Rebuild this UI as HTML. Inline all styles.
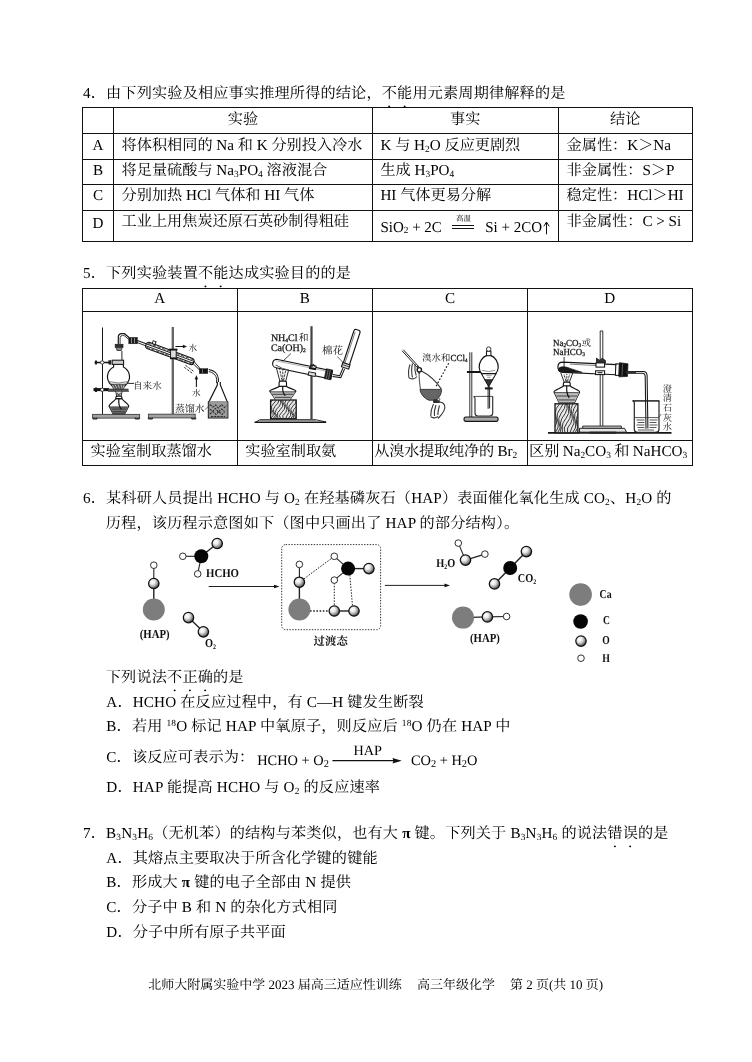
<!DOCTYPE html>
<html lang="zh-CN">
<head>
<meta charset="utf-8">
<title>高三年级化学 第2页</title>
<style>
html,body{margin:0;padding:0;background:#fff}
body{width:752px;height:1062px;overflow:hidden}
#page{width:752px;height:1062px;position:relative;overflow:hidden;background:#fff;will-change:transform;text-rendering:geometricPrecision;font-family:"Liberation Serif","Noto Serif CJK SC",serif;font-size:15.17px;color:#000}
.l{position:absolute;white-space:nowrap;line-height:20px;height:20px}
.w{letter-spacing:.0105em}
.em{-webkit-text-emphasis:dot;text-emphasis:dot;-webkit-text-emphasis-position:under;text-emphasis-position:under right}
sub,sup{font-size:.62em;line-height:0}
sub{vertical-align:-.16em}
sup{vertical-align:.52em}
.r{position:absolute;display:block}
.c{text-align:center}
.fig{position:absolute;left:0;top:0}
.eq sub{font-size:.72em;vertical-align:-.22em}
</style>
</head>
<body>
<div id="page">
<div class="l w" style="left:83.00px;top:83.68px;">4．由下列实验及相应事实推理所得的结论，<span class="em">不能</span>用元素周期律解释的是</div>
<i class="r" style="left:82.00px;top:107.40px;width:610.70px;height:1.00px;background:#111"></i>
<i class="r" style="left:82.00px;top:133.00px;width:610.70px;height:1.00px;background:#111"></i>
<i class="r" style="left:82.00px;top:158.50px;width:610.70px;height:1.00px;background:#111"></i>
<i class="r" style="left:82.00px;top:184.00px;width:610.70px;height:1.00px;background:#111"></i>
<i class="r" style="left:82.00px;top:209.80px;width:610.70px;height:1.00px;background:#111"></i>
<i class="r" style="left:82.00px;top:240.50px;width:610.70px;height:1.00px;background:#111"></i>
<i class="r" style="left:82.00px;top:107.90px;width:1.00px;height:133.10px;background:#111"></i>
<i class="r" style="left:113.00px;top:107.90px;width:1.00px;height:133.10px;background:#111"></i>
<i class="r" style="left:371.80px;top:107.90px;width:1.00px;height:133.10px;background:#111"></i>
<i class="r" style="left:557.60px;top:107.90px;width:1.00px;height:133.10px;background:#111"></i>
<i class="r" style="left:691.70px;top:107.90px;width:1.00px;height:133.10px;background:#111"></i>
<div class="l c" style="left:113.50px;top:109.68px;width:258.80px;">实验</div>
<div class="l c" style="left:372.30px;top:109.68px;width:185.80px;">事实</div>
<div class="l c" style="left:558.10px;top:109.68px;width:134.10px;">结论</div>
<div class="l c" style="left:82.50px;top:135.68px;width:31.00px;">A</div>
<div class="l c" style="left:82.50px;top:160.98px;width:31.00px;">B</div>
<div class="l c" style="left:82.50px;top:186.48px;width:31.00px;">C</div>
<div class="l c" style="left:82.50px;top:214.08px;width:31.00px;">D</div>
<div class="l" style="left:121.60px;top:135.68px;">将体积相同的 Na 和 K 分别投入冷水</div>
<div class="l" style="left:380.40px;top:135.68px;">K 与 H<sub>2</sub>O 反应更剧烈</div>
<div class="l" style="left:566.60px;top:135.68px;">金属性：K＞Na</div>
<div class="l" style="left:121.60px;top:160.98px;">将足量硫酸与 Na<sub>3</sub>PO<sub>4</sub> 溶液混合</div>
<div class="l" style="left:380.40px;top:160.98px;">生成 H<sub>3</sub>PO<sub>4</sub></div>
<div class="l" style="left:566.60px;top:160.98px;">非金属性：S＞P</div>
<div class="l" style="left:121.60px;top:186.48px;">分别加热 HCl 气体和 HI 气体</div>
<div class="l" style="left:380.40px;top:186.48px;">HI 气体更易分解</div>
<div class="l" style="left:566.60px;top:186.48px;">稳定性：HCl＞HI</div>
<div class="l" style="left:121.60px;top:211.68px;">工业上用焦炭还原石英砂制得粗硅</div>
<div class="l" style="left:566.60px;top:211.68px;">非金属性：C &gt; Si</div>
<div class="l" style="left:380.40px;top:217.54px;font-size:15.00px;">SiO<sub>2</sub> + 2C</div>
<div class="l" style="left:485.20px;top:217.54px;font-size:15.00px;">Si + 2CO</div>
<i class="r" style="left:452.40px;top:225.45px;width:22.00px;height:0.90px;background:#111"></i>
<i class="r" style="left:452.40px;top:228.05px;width:22.00px;height:0.90px;background:#111"></i>
<div class="l" style="left:456.00px;top:209.24px;font-size:7.60px;">高温</div>
<div class="l w" style="left:83.00px;top:263.98px;">5．下列实验装置<span class="em">不能</span>达成实验目的的是</div>
<i class="r" style="left:82.00px;top:287.90px;width:610.80px;height:1.00px;background:#111"></i>
<i class="r" style="left:82.00px;top:311.00px;width:610.80px;height:1.00px;background:#111"></i>
<i class="r" style="left:82.00px;top:439.80px;width:610.80px;height:1.00px;background:#111"></i>
<i class="r" style="left:82.00px;top:464.80px;width:610.80px;height:1.00px;background:#111"></i>
<i class="r" style="left:82.00px;top:288.40px;width:1.00px;height:176.90px;background:#111"></i>
<i class="r" style="left:236.70px;top:288.40px;width:1.00px;height:176.90px;background:#111"></i>
<i class="r" style="left:372.00px;top:288.40px;width:1.00px;height:176.90px;background:#111"></i>
<i class="r" style="left:526.90px;top:288.40px;width:1.00px;height:176.90px;background:#111"></i>
<i class="r" style="left:691.80px;top:288.40px;width:1.00px;height:176.90px;background:#111"></i>
<div class="l c" style="left:82.50px;top:288.68px;width:154.70px;">A</div>
<div class="l c" style="left:237.20px;top:288.68px;width:135.30px;">B</div>
<div class="l c" style="left:372.50px;top:288.68px;width:154.90px;">C</div>
<div class="l c" style="left:527.40px;top:288.68px;width:164.90px;">D</div>
<div class="l" style="left:90.60px;top:441.88px;">实验室制取蒸馏水</div>
<div class="l" style="left:245.30px;top:441.88px;">实验室制取氨</div>
<div class="l" style="left:374.20px;top:441.88px;letter-spacing:-.012em;">从溴水提取纯净的 Br<sub>2</sub></div>
<div class="l" style="left:529.00px;top:441.88px;word-spacing:-.4px;">区别 Na<sub>2</sub>CO<sub>3</sub> 和 NaHCO<sub>3</sub></div>
<div class="l w" style="left:83.00px;top:489.18px;">6．某科研人员提出 HCHO 与 O<sub>2</sub> 在羟基磷灰石（HAP）表面催化氧化生成 CO<sub>2</sub>、H<sub>2</sub>O 的</div>
<div class="l w" style="left:105.80px;top:513.88px;">历程，该历程示意图如下（图中只画出了 HAP 的部分结构）。</div>
<div class="l w" style="left:105.80px;top:668.28px;">下列说法<span class="em">不正确</span>的是</div>
<div class="l w" style="left:106.30px;top:692.58px;">A．HCHO 在反应过程中，有 C—H 键发生断裂</div>
<div class="l w" style="left:106.30px;top:717.28px;">B．若用 <sup>18</sup>O 标记 HAP 中氧原子，则反应后 <sup>18</sup>O 仍在 HAP 中</div>
<div class="l w" style="left:106.30px;top:747.68px;">C．该反应可表示为：</div>
<div class="l w" style="left:106.30px;top:777.68px;">D．HAP 能提高 HCHO 与 O<sub>2</sub> 的反应速率</div>
<div class="l eq" style="left:257.20px;top:751.14px;font-size:14.40px;">HCHO + O<sub>2</sub></div>
<div class="l eq" style="left:410.90px;top:751.14px;font-size:14.40px;">CO<sub>2</sub> + H<sub>2</sub>O</div>
<div class="l" style="left:353.40px;top:741.31px;font-size:14.20px;">HAP</div>
<div class="l w" style="left:83.00px;top:823.98px;">7．B<sub>3</sub>N<sub>3</sub>H<sub>6</sub>（无机苯）的结构与苯类似，也有大 <b>π</b> 键。下列关于 B<sub>3</sub>N<sub>3</sub>H<sub>6</sub> 的说法<span class="em">错误</span>的是</div>
<div class="l w" style="left:106.30px;top:848.78px;">A．其熔点主要取决于所含化学键的键能</div>
<div class="l w" style="left:106.30px;top:873.48px;">B．形成大 <b>π</b> 键的电子全部由 N 提供</div>
<div class="l w" style="left:106.30px;top:898.28px;">C．分子中 B 和 N 的杂化方式相同</div>
<div class="l w" style="left:106.30px;top:922.98px;">D．分子中所有原子共平面</div>
<div class="l" style="left:148.20px;top:975.21px;font-size:13.00px;">北师大附属实验中学 2023 届高三适应性训练</div>
<div class="l" style="left:416.90px;top:975.21px;font-size:13.00px;">高三年级化学</div>
<div class="l" style="left:510.00px;top:975.21px;font-size:13.00px;">第 2 页(共 10 页)</div>
<svg class="fig" width="752" height="1062" viewBox="0 0 752 1062" font-family="'Liberation Serif', 'Noto Serif CJK SC', serif"><g id="q6"><defs><radialGradient id="sph" cx="0.36" cy="0.34" r="0.7"><stop offset="0" stop-color="#fff"/><stop offset="0.34" stop-color="#ececec"/><stop offset="0.7" stop-color="#9a9a9a"/><stop offset="1" stop-color="#2e2e2e"/></radialGradient></defs><line x1="153.8" y1="609.5" x2="153.8" y2="583.5" stroke="#222" stroke-width="1.4"/><line x1="153.8" y1="583.5" x2="153.8" y2="565.2" stroke="#222" stroke-width="1.1"/><circle cx="153.8" cy="609.5" r="11" fill="#7d7d7d"/><circle cx="153.8" cy="583.5" r="5.2" fill="url(#sph)" stroke="#111" stroke-width="1.25"/><circle cx="153.8" cy="565.2" r="3.3" fill="#fff" stroke="#1a1a1a" stroke-width="0.9"/><text x="0" y="0" transform="translate(139.80 637.80) scale(0.880 1)" font-size="12.20" font-weight="bold" fill="#111" text-anchor="start">(HAP)</text><line x1="201.3" y1="556.3" x2="217.2" y2="543.5" stroke="#222" stroke-width="1.4"/><line x1="201.3" y1="556.3" x2="182.8" y2="556.3" stroke="#222" stroke-width="1.1"/><line x1="201.3" y1="556.3" x2="197.7" y2="573.9" stroke="#222" stroke-width="1.1"/><circle cx="201.3" cy="556.3" r="7" fill="#050505"/><circle cx="217.2" cy="543.5" r="5.2" fill="url(#sph)" stroke="#111" stroke-width="1.25"/><circle cx="182.8" cy="556.3" r="3.3" fill="#fff" stroke="#1a1a1a" stroke-width="0.9"/><circle cx="197.7" cy="573.9" r="3.3" fill="#fff" stroke="#1a1a1a" stroke-width="0.9"/><text x="0" y="0" transform="translate(206.00 577.30) scale(0.900 1)" font-size="12.00" font-weight="bold" fill="#111" text-anchor="start">HCHO</text><line x1="208.7" y1="586.5" x2="276.5" y2="586.5" stroke="#222" stroke-width="1"/><path d="M279.5 586.5 l-5.5 -1.8 v3.6z" fill="#111"/><line x1="188.5" y1="617.6" x2="203.4" y2="631.8" stroke="#222" stroke-width="1.4"/><circle cx="188.5" cy="617.6" r="5.2" fill="url(#sph)" stroke="#111" stroke-width="1.25"/><circle cx="203.4" cy="631.8" r="5.2" fill="url(#sph)" stroke="#111" stroke-width="1.25"/><text x="0" y="0" transform="translate(204.90 647.30) scale(0.860 1)" font-size="12.00" font-weight="bold" fill="#111" text-anchor="start">O<tspan font-size="7" dy="2">2</tspan></text><rect x="281.7" y="544.6" width="98.9" height="85.1" rx="4" fill="none" stroke="#333" stroke-width="1" stroke-dasharray="1.4 1.4"/><line x1="299.4" y1="609.5" x2="299.4" y2="582.2" stroke="#222" stroke-width="1.4"/><line x1="299.4" y1="582.2" x2="299.4" y2="564.4" stroke="#222" stroke-width="1.1"/><line x1="334.3" y1="556.3" x2="348.1" y2="568.6" stroke="#222" stroke-width="1.1"/><line x1="348.1" y1="568.6" x2="368.9" y2="568.6" stroke="#222" stroke-width="1.4"/><line x1="348.1" y1="568.6" x2="334.3" y2="580.1" stroke="#222" stroke-width="1.1"/><line x1="334.3" y1="611.0" x2="354.0" y2="611.0" stroke="#222" stroke-width="1.4"/><line x1="299.4" y1="582.2" x2="334.3" y2="556.3" stroke="#222" stroke-width="1.0" stroke-dasharray="1.5 1.4"/><line x1="334.3" y1="580.1" x2="334.3" y2="611.0" stroke="#222" stroke-width="1.0" stroke-dasharray="1.5 1.4"/><line x1="349.8" y1="575.0" x2="352.5" y2="606.0" stroke="#222" stroke-width="1.0" stroke-dasharray="1.5 1.4"/><line x1="310.0" y1="611.0" x2="329.0" y2="611.0" stroke="#222" stroke-width="1.6" stroke-dasharray="1.6 1.6"/><circle cx="299.4" cy="609.5" r="11" fill="#7d7d7d"/><circle cx="299.4" cy="582.2" r="5.2" fill="url(#sph)" stroke="#111" stroke-width="1.25"/><circle cx="299.4" cy="564.4" r="3.3" fill="#fff" stroke="#1a1a1a" stroke-width="0.9"/><circle cx="334.3" cy="556.3" r="3.3" fill="#fff" stroke="#1a1a1a" stroke-width="0.9"/><circle cx="348.1" cy="568.6" r="7" fill="#050505"/><circle cx="368.9" cy="568.6" r="5.2" fill="url(#sph)" stroke="#111" stroke-width="1.25"/><circle cx="334.3" cy="580.1" r="3.3" fill="#fff" stroke="#1a1a1a" stroke-width="0.9"/><circle cx="334.3" cy="611.0" r="5.2" fill="url(#sph)" stroke="#111" stroke-width="1.25"/><circle cx="354.0" cy="611.0" r="5.2" fill="url(#sph)" stroke="#111" stroke-width="1.25"/><text x="313.6" y="645.2" font-size="11.4" font-weight="bold" fill="#111">过渡态</text><line x1="384.9" y1="585.4" x2="447.0" y2="585.4" stroke="#222" stroke-width="1"/><path d="M450.0 585.4 l-5.5 -1.8 v3.6z" fill="#111"/><line x1="465.5" y1="560.1" x2="458.3" y2="543.1" stroke="#222" stroke-width="1.1"/><line x1="465.5" y1="560.1" x2="484.9" y2="554.1" stroke="#222" stroke-width="1.1"/><circle cx="465.5" cy="560.1" r="5.2" fill="url(#sph)" stroke="#111" stroke-width="1.25"/><circle cx="458.3" cy="543.1" r="3.3" fill="#fff" stroke="#1a1a1a" stroke-width="0.9"/><circle cx="484.9" cy="554.1" r="3.3" fill="#fff" stroke="#1a1a1a" stroke-width="0.9"/><text x="0" y="0" transform="translate(436.20 566.90) scale(0.860 1)" font-size="12.00" font-weight="bold" fill="#111" text-anchor="start">H<tspan font-size="7" dy="2">2</tspan><tspan dy="-2">O</tspan></text><line x1="510.2" y1="568.0" x2="526.4" y2="551.6" stroke="#222" stroke-width="1.4"/><line x1="510.2" y1="568.0" x2="494.5" y2="583.9" stroke="#222" stroke-width="1.4"/><circle cx="510.2" cy="568.0" r="7" fill="#050505"/><circle cx="526.4" cy="551.6" r="5.2" fill="url(#sph)" stroke="#111" stroke-width="1.25"/><circle cx="494.5" cy="583.9" r="5.2" fill="url(#sph)" stroke="#111" stroke-width="1.25"/><text x="0" y="0" transform="translate(517.70 582.20) scale(0.860 1)" font-size="12.00" font-weight="bold" fill="#111" text-anchor="start">CO<tspan font-size="7" dy="2">2</tspan></text><line x1="463.0" y1="617.6" x2="487.4" y2="616.9" stroke="#222" stroke-width="1.4"/><line x1="487.4" y1="616.9" x2="506.6" y2="616.5" stroke="#222" stroke-width="1.1"/><circle cx="463.0" cy="617.6" r="11" fill="#7d7d7d"/><circle cx="487.4" cy="616.9" r="5.2" fill="url(#sph)" stroke="#111" stroke-width="1.25"/><circle cx="506.6" cy="616.5" r="3.3" fill="#fff" stroke="#1a1a1a" stroke-width="0.9"/><text x="0" y="0" transform="translate(470.00 642.20) scale(0.880 1)" font-size="12.20" font-weight="bold" fill="#111" text-anchor="start">(HAP)</text><circle cx="580.6" cy="594.6" r="11.3" fill="#7d7d7d"/><circle cx="580.6" cy="621.5" r="7.3" fill="#050505"/><circle cx="581.0" cy="641.1" r="5.2" fill="url(#sph)" stroke="#111" stroke-width="1.25"/><circle cx="581.0" cy="658.2" r="3.3" fill="#fff" stroke="#1a1a1a" stroke-width="0.9"/><text x="0" y="0" transform="translate(599.60 598.40) scale(0.820 1)" font-size="12.00" font-weight="bold" fill="#111" text-anchor="start">Ca</text><text x="0" y="0" transform="translate(603.00 624.30) scale(0.800 1)" font-size="12.00" font-weight="bold" fill="#111" text-anchor="start">C</text><text x="0" y="0" transform="translate(602.30 644.30) scale(0.800 1)" font-size="12.00" font-weight="bold" fill="#111" text-anchor="start">O</text><text x="0" y="0" transform="translate(602.30 661.60) scale(0.820 1)" font-size="12.00" font-weight="bold" fill="#111" text-anchor="start">H</text></g>
<path d="M546.500 234.300V222.400M543.800 226.300l2.700-4.300l2.700 4.300" fill="none" stroke="#111" stroke-width="1"/>
<path d="M332.400 760.700H396" fill="none" stroke="#111" stroke-width="1.2"/><path d="M401.800 760.700l-9.300-2.700q1.600 2.700 0 5.400z" fill="#111"/>
<g id="q5figs"><rect x="102" y="327.500" width="1" height="87" fill="#1a1a1a"/><rect x="92.6" y="414.4" width="47.0" height="3.7" fill="#a2a2a2" stroke="#444" stroke-width="0.94" /><path d="M93 417.7v1.300h4v-1.300M135.300 417.700v1.300h4v-1.300" fill="#555" stroke="#151515" stroke-width="0.94" /><line x1="172.8" y1="327.0" x2="172.8" y2="414.0" stroke="#666" stroke-width="2.36" /><rect x="148.4" y="414.2" width="46.8" height="3.7" fill="#a2a2a2" stroke="#444" stroke-width="0.94" /><path d="M148.400 417.700v1.300h4v-1.300M191.700 417.700v1.300h4v-1.300" fill="#555" stroke="#151515" stroke-width="0.94" /><line x1="94.5" y1="362.5" x2="109.0" y2="362.5" stroke="#151515" stroke-width="1.53" /><circle cx="102.200" cy="362.500" r="1.700" fill="#fff" stroke="#222" stroke-width=".8"/><line x1="96.0" y1="360.5" x2="96.0" y2="364.5" stroke="#151515" stroke-width="1.89" /><line x1="93.5" y1="389.6" x2="109.0" y2="389.6" stroke="#151515" stroke-width="3.07" /><line x1="108.0" y1="389.8" x2="128.5" y2="389.8" stroke="#444" stroke-width="2.24" /><circle cx="102.200" cy="389.800" r="1.700" fill="#fff" stroke="#222" stroke-width=".8"/><line x1="96.0" y1="387.5" x2="96.0" y2="392.0" stroke="#151515" stroke-width="1.89" /><line x1="108.0" y1="391.3" x2="129.0" y2="391.3" stroke="#555" stroke-width="1.18" /><path d="M113.600 364.400V366.950A11 11 0 1 0 123.400 366.950V364.400" fill="#fff" stroke="#151515" stroke-width="1.18" /><rect x="112.2" y="360.2" width="11.4" height="4.2" fill="#ccc" stroke="#151515" stroke-width="1.06" /><rect x="108.8" y="360.6" width="2.2" height="3.6" fill="#222" stroke="#151515" stroke-width="0.47" /><path d="M108.200 381.500q10.300 3 20.600 0" fill="none" stroke="#666" stroke-width="0.83" /><path d="M110 384q8.500 2.500 17 0" fill="none" stroke="#777" stroke-width="0.71" /><path d="M111 384.200h15l-2.500 4.600h-10z" fill="#555" stroke="#222" stroke-width="0.59" /><path d="M112.500 385l2 3.500M115 384.500l2 4M118 384.500l1.500 4M121 384.500l1.200 4M124 384.500l-.5 3.500" fill="none" stroke="#ddd" stroke-width="0.71" /><line x1="121.9" y1="351.0" x2="121.9" y2="360.0" stroke="#151515" stroke-width="0.94" /><rect x="115.2" y="344.3" width="7.8" height="3.0" fill="#333" stroke="#151515" stroke-width="0.71" /><path d="M116 347.300h6.200l-1 3.200h-4.200z" fill="#888" stroke="#151515" stroke-width="0.71" /><path d="M118.300 344.300v-7q0-3.600 3.600-3.600h2.500l4.700 3.800" fill="none" stroke="#151515" stroke-width="1.18" /><path d="M120.100 344.300v-6.500q0-2.200 2.200-2.200h1.800l4.700 3.800" fill="none" stroke="#333" stroke-width="0.94" /><g transform="translate(137 341.400) rotate(20.200)"><path d="M12.500-3.300h45q3 0 3 3.300t-3 3.300h-45q-3 0-3-3.300t3-3.300z" fill="#fff" stroke="#151515" stroke-width="1.06" /><line x1="0.0" y1="-0.9" x2="61.0" y2="-0.9" stroke="#151515" stroke-width="0.94" /><line x1="0.0" y1="1.1" x2="61.0" y2="1.1" stroke="#151515" stroke-width="0.94" /><line x1="11.0" y1="-2.2" x2="59.0" y2="-2.2" stroke="#333" stroke-width="0.83" stroke-dasharray="3.500 1.500"/><line x1="11.0" y1="2.3" x2="59.0" y2="2.3" stroke="#333" stroke-width="0.83" stroke-dasharray="3.500 1.500"/><rect x="15.0" y="-6.2" width="3.0" height="3.0" fill="#fff" stroke="#151515" stroke-width="0.94" /></g><path d="M193.900 361.300l6.200 7.300M192.600 363.200l7 6.800" fill="none" stroke="#151515" stroke-width="0.94" /><path d="M185.500 365.300l8.500 6.300M184.300 367.300l8.300 6.200" fill="none" stroke="#222" stroke-width="0.94" stroke-dasharray="2.500 1.200"/><rect x="128.8" y="337.4" width="8.6" height="6.4" fill="#1a1a1a" stroke="#151515" stroke-width="0.47" /><line x1="131.5" y1="337.9" x2="131.5" y2="343.3" stroke="#bbb" stroke-width="0.71" /><line x1="134.5" y1="337.9" x2="134.5" y2="343.3" stroke="#bbb" stroke-width="0.71" /><rect x="199.3" y="368.7" width="8.5" height="4.8" fill="#111" stroke="#151515" stroke-width="0.47" /><line x1="202.5" y1="369.2" x2="202.5" y2="373.0" stroke="#aaa" stroke-width="0.59" /><rect x="170.6" y="349.5" width="5.6" height="8.5" fill="#ddd" stroke="#151515" stroke-width="0.94" /><line x1="169.0" y1="349.6" x2="177.5" y2="349.6" stroke="#151515" stroke-width="1.89" /><line x1="170.0" y1="358.5" x2="176.5" y2="358.5" stroke="#151515" stroke-width="1.42" /><line x1="175.5" y1="346.5" x2="184.0" y2="346.5" stroke="#151515" stroke-width="1.06" /><path d="M186.600 346.500l-3.600-1.500v3z" fill="#111" stroke="#151515" stroke-width="0.35" /><text x="188.6" y="350.6" font-size="8.6" fill="#111">水</text><line x1="196.4" y1="377.5" x2="196.4" y2="387.0" stroke="#151515" stroke-width="1.06" /><path d="M196.400 375.600l-1.500 3.600h3z" fill="#111" stroke="#151515" stroke-width="0.35" /><text x="192.1" y="396.4" font-size="8.6" fill="#111">水</text><path d="M208.800 369.600c5.500 1 9.300 4.500 9.600 9.500v4" fill="none" stroke="#151515" stroke-width="1.06" /><path d="M208.800 371.600c4.300 .8 7.500 3.500 7.800 7.800v3.500" fill="none" stroke="#151515" stroke-width="0.94" /><path d="M217.300 381.900v3.100l-7.900 15.800l-1 1.200v15.800h19.400v-15.800l-1-1.200l-6.500-15.800v-3.100" fill="#fff" stroke="#151515" stroke-width="1.18" /><path d="M208.900 401.600h18.400v15.700h-18.400z" fill="#9c9c9c" stroke="#666" stroke-width="0.59" /><path d="M210 404.500l3 2.500 2.500-2 3 3 3-3.500 3 3 2-2M210 409l2.500 2.500 3-3 3 3.500 3-3 3 2.500M210 414l3-2.500 3 3 3-3 3 3 2.500-2.500M211 416.500h14" fill="none" stroke="#2a2a2a" stroke-width="1.06" stroke-dasharray="2.200 1"/><line x1="204.9" y1="409.8" x2="209.5" y2="405.2" stroke="#333" stroke-width="0.71" /><g transform="translate(118.9 413.6)" stroke="#151515" stroke-width="1.15" fill="none" stroke-linejoin="round"><path d="M-6 0H6L9.8 -7.3C9.8 -9.8 4 -12.5 3 -15H-3C-4 -12.5 -9.8 -9.8 -9.8 -7.3Z" fill="#fff"/><path d="M-6 0H6L9.2 -6.5H-9.2Z" fill="#777" stroke="none"/><path d="M-8.8 -6.7H8.8M-7.3 -4.526H7.3M-6.5 -1.825H6.5" stroke="#222" stroke-width=".8"/><path d="M0 -15q-.8 6.75 2.500 10.8" stroke="#111" stroke-width="1.2"/><path d="M-3 -15H3V-16q0-1.500-1.500-1.500H-1.5q-1.500 0-1.500 1.500Z" fill="#fff"/><path d="M-2.2 -17.5L-3.2 -22.3M2.2 -17.5L3.2 -22.3" stroke-width=".9"/><path d="M0 -17.5V-21.3M-0.8 -18.5L-1.6 -21.3M0.8 -18.5L1.6 -21.3" stroke="#222" stroke-width=".9" stroke-dasharray="2.500 1"/></g><line x1="128.2" y1="383.4" x2="134.0" y2="383.4" stroke="#151515" stroke-width="0.94" /><text x="133" y="389.3" font-size="9.6" fill="#111">自来水</text><text x="175" y="411.9" font-size="9.9" fill="#111">蒸馏水</text><line x1="311.5" y1="326.2" x2="311.5" y2="419.0" stroke="#444" stroke-width="2.24" /><line x1="254.5" y1="422.2" x2="326.2" y2="422.2" stroke="#151515" stroke-width="1.53" /><path d="M259.700 419.800h56.200" fill="none" stroke="#151515" stroke-width="1.3" /><path d="M256 422l3.700-2.200M326 422l-10-2.200" fill="none" stroke="#151515" stroke-width="0.94" /><clipPath id="wb"><rect x="270.6" y="400.0" width="25.6" height="18.7"/></clipPath><rect x="270.6" y="400.0" width="25.6" height="18.7" fill="#e8e8e8" stroke="#151515" stroke-width="1.3" /><g clip-path="url(#wb)" stroke="#222" stroke-width="0.9" fill="none"><path d="M263.1 418.7L261.9 415.6L264.1 412.5L266.8 409.3L267.3 406.2L265.8 403.1L265.3 400.0"/><path d="M265.6 418.7L265.3 415.6L268.2 412.5L269.4 409.3L268.2 406.2L267.2 403.1L268.7 400.0"/><path d="M268.1 418.7L269.4 415.6L271.4 412.5L270.7 409.3L269.3 406.2L270.0 403.1L272.8 400.0"/><path d="M270.6 418.7L273.1 415.6L273.1 412.5L271.6 409.3L271.5 406.2L274.0 403.1L276.5 400.0"/><path d="M273.1 418.7L275.4 415.6L274.0 412.5L273.3 409.3L275.1 406.2L278.0 403.1L278.8 400.0"/><path d="M275.6 418.7L276.5 415.6L275.2 412.5L276.4 409.3L279.3 406.2L280.9 403.1L280.0 400.0"/><path d="M278.1 418.7L277.4 415.6L277.8 412.5L280.5 409.3L282.7 406.2L282.4 403.1L280.9 400.0"/><path d="M280.6 418.7L279.4 415.6L281.6 412.5L284.3 409.3L284.7 406.2L283.2 403.1L282.8 400.0"/><path d="M283.1 418.7L282.8 415.6L285.7 412.5L286.9 409.3L285.7 406.2L284.7 403.1L286.2 400.0"/><path d="M285.6 418.7L287.0 415.6L288.9 412.5L288.2 409.3L286.8 406.2L287.5 403.1L290.3 400.0"/><path d="M288.1 418.7L290.6 415.6L290.6 412.5L289.0 409.3L289.0 406.2L291.5 403.1L294.0 400.0"/><path d="M290.6 418.7L292.9 415.6L291.5 412.5L290.8 409.3L292.7 406.2L295.5 403.1L296.3 400.0"/><path d="M293.1 418.7L293.9 415.6L292.7 412.5L293.9 409.3L296.8 406.2L298.4 403.1L297.4 400.0"/><path d="M295.6 418.7L294.9 415.6L295.3 412.5L298.0 409.3L300.2 406.2L299.9 403.1L298.4 400.0"/><path d="M298.1 418.7L296.9 415.6L299.2 412.5L301.8 409.3L302.2 406.2L300.7 403.1L300.3 400.0"/><path d="M300.6 418.7L300.3 415.6L303.2 412.5L304.4 409.3L303.2 406.2L302.2 403.1L303.7 400.0"/><path d="M303.1 418.7L304.5 415.6L306.4 412.5L305.6 409.3L304.3 406.2L305.0 403.1L307.9 400.0"/><path d="M305.6 418.7L308.1 415.6L308.1 412.5L306.5 409.3L306.5 406.2L309.0 403.1L311.5 400.0"/><path d="M308.1 418.7L310.3 415.6L308.9 412.5L308.3 409.3L310.2 406.2L313.0 403.1L313.8 400.0"/><path d="M310.6 418.7L311.4 415.6L310.2 412.5L311.4 409.3L314.3 406.2L315.9 403.1L314.9 400.0"/></g><g transform="translate(282.8 399.4)" stroke="#151515" stroke-width="1.15" fill="none" stroke-linejoin="round"><path d="M-7.3 0H7.3L13.1 -8.2C13.1 -9.8 4.7 -11.4 3.7 -13H-3.7C-4.7 -11.4 -13.1 -9.8 -13.1 -8.2Z" fill="#fff"/><path d="M-7.3 0H7.3L12.5 -7.4H-12.5Z" fill="#bdbdbd" stroke="none"/><path d="M-12.1 -7.6H12.1M-10.6 -5.084H10.6M-7.8 -2.05H7.8" stroke="#222" stroke-width=".8"/><path d="M0 -13q-.8 5.85 2.500 9.36" stroke="#111" stroke-width="1.2"/><path d="M-3.7 -13H3.7V-16.7q0-1.500-1.500-1.500H-2.2q-1.500 0-1.500 1.500Z" fill="#fff"/><path d="M-2.9 -18.2L-6.4 -31.5M2.9 -18.2L6.4 -31.5" stroke-width=".9"/><path d="M0 -18.2V-30.5M-0.8 -19.2L-3.2 -30.5M0.8 -19.2L3.2 -30.5" stroke="#222" stroke-width=".9" stroke-dasharray="2.500 1"/></g><g transform="translate(272.9 362.8) rotate(11.7)"><path d="M4-4.200h56v8.400h-56a4.200 4.200 0 0 1 0-8.400z" fill="#fff" stroke="#151515" stroke-width="1.18" /><line x1="3.0" y1="-2.6" x2="58.0" y2="-2.6" stroke="#888" stroke-width="0.59" /><rect x="53.5" y="-5.0" width="6.4" height="10.0" fill="#1a1a1a" stroke="#151515" stroke-width="0.59" /><line x1="55.5" y1="-4.5" x2="55.5" y2="4.5" stroke="#999" stroke-width="0.59" /><line x1="57.7" y1="-4.5" x2="57.7" y2="4.5" stroke="#999" stroke-width="0.59" /><path d="M3 1.500q6 2.500 14 2.300" fill="none" stroke="#555" stroke-width="1.06" /><rect x="38.0" y="-5.6" width="5.0" height="3.0" fill="#ddd" stroke="#151515" stroke-width="0.94" /><rect x="37.0" y="1.5" width="7.0" height="3.4" fill="#ddd" stroke="#151515" stroke-width="0.94" /></g><line x1="309.0" y1="368.0" x2="316.0" y2="369.2" stroke="#151515" stroke-width="1.89" /><path d="M310.300 364.800l1.800 1.500l1.300-1.800l1.800 1.800" fill="none" stroke="#151515" stroke-width="1.06" /><path d="M332.700 374.600l7 1.100l3.200-7.600" fill="none" stroke="#151515" stroke-width="1.06" /><path d="M332.500 376.400l8.300 1.200l3.800-8.700" fill="none" stroke="#151515" stroke-width="1.06" /><g transform="translate(345.5 366.5) rotate(-71.8)"><path d="M0-3.200h36.500q2 0 2 2v2.400q0 2-2 2h-36.500z" fill="#fff" stroke="#151515" stroke-width="1.18" /><line x1="3.0" y1="-1.6" x2="36.0" y2="-1.6" stroke="#555" stroke-width="0.71" /><rect x="-1.5" y="-3.8" width="4.5" height="7.6" fill="#ddd" stroke="#151515" stroke-width="1.06" /><line x1="0.8" y1="-3.8" x2="0.8" y2="3.8" stroke="#333" stroke-width="0.83" /></g><text x="0" y="0" transform="translate(270.90 340.60) scale(1.000 1)" font-size="10.00" fill="#111" text-anchor="start" stroke="#111" stroke-width="0.25">NH<tspan font-size="5.5" dy="1.500">4</tspan><tspan dy="-1.500">Cl</tspan></text><text x="298.8" y="341.2" font-size="9.8" fill="#111">和</text><text x="0" y="0" transform="translate(270.90 350.80) scale(1.000 1)" font-size="10.00" fill="#111" text-anchor="start" stroke="#111" stroke-width="0.25">Ca(OH)<tspan font-size="5.5" dy="1.500">2</tspan></text><line x1="291.0" y1="353.5" x2="282.5" y2="361.5" stroke="#222" stroke-width="0.83" /><text x="322" y="354.4" font-size="10.5" fill="#111">棉花</text><line x1="337.4" y1="356.5" x2="343.1" y2="362.7" stroke="#333" stroke-width="0.71" /><path d="M402 350.700l17.500 19.200M403.300 349.700l17.300 19" fill="none" stroke="#151515" stroke-width="0.94" /><path d="M419.500 370c-1 6 0 13 1 19.400" fill="none" stroke="#555" stroke-width="1.06" /><path d="M421 370.800q12 6 20.400 18.300" fill="none" stroke="#333" stroke-width="1.06" /><path d="M420 389.400h21.400c.5 4-2 8.500-6 10.800h-6.500c-5-2-8.500-6.500-8.900-10.800z" fill="#666" stroke="#333" stroke-width="0.94" /><path d="M434 399.500l-.5 3h5.800l-.5-4" fill="#333" stroke="#222" stroke-width="0.94" /><circle cx="438.600" cy="399.200" r="1.300" fill="#ddd" stroke="#333" stroke-width=".6"/><path d="M410 364.500c-1.500 4-1.800 9-1 13.500M412.500 363.500c-1.200 4.500-1.200 9 0 14M415 364c-.5 4 0 8 1.200 11.500M417.500 365.500c0 3 .8 6 2 8.500M409 378c3 1.500 6 1 8-1.500" fill="none" stroke="#3a3a3a" stroke-width="1.12" /><circle cx="419.300" cy="369.800" r="2.200" fill="#fff" stroke="#1a1a1a" stroke-width="1.400"/><path d="M437 402.500c3-1 6 0 7.500 2.500c1.500 4-2 9-6.500 13.500M433.500 404c-2 4-3 8-2.800 12.500M436 405c-1.500 4-2 7.500-1.500 11M439.500 405.500c-1 3.500-1.800 6.500-1.600 9.500M431 417c2.500 1.200 5 1 7-.5" fill="none" stroke="#3a3a3a" stroke-width="1.12" /><text x="422.2" y="361.1" font-size="9.4" fill="#111">溴水和</text><text x="0" y="0" transform="translate(450.50 360.90) scale(0.970 1)" font-size="9.30" fill="#111" text-anchor="start" stroke="#111" stroke-width="0.25">CCl<tspan font-size="5.2" dy="1.300">4</tspan></text><line x1="448.6" y1="363.2" x2="435.2" y2="387.8" stroke="#111" stroke-width="1.18" stroke-dasharray="1.600 1.900"/><g transform="translate(.6 0)"><line x1="469.2" y1="352.3" x2="469.2" y2="417.0" stroke="#222" stroke-width="0.94" /><line x1="471.2" y1="352.3" x2="471.2" y2="417.0" stroke="#222" stroke-width="0.94" /><path d="M465.200 417h30.500q1.800 0 1.800 2.200t-1.800 2.200h-30.500q-1.800 0-1.800-2.200t1.800-2.200z" fill="#a8a8a8" stroke="#151515" stroke-width="1.06" /><line x1="466.3" y1="372.0" x2="481.5" y2="372.0" stroke="#151515" stroke-width="2.01" /><path d="M472.800 396.400l1 .600c.3 .5 .500 1 .600 1.500v14.500q0 3 3 3h11.700q3 0 3-3v-16.600" fill="#fff" stroke="#333" stroke-width="1.18" /><line x1="473.5" y1="396.4" x2="492.5" y2="396.4" stroke="#444" stroke-width="0.94" /><g transform="translate(0 1.800)"><line x1="480.5" y1="370.2" x2="495.7" y2="370.2" stroke="#151515" stroke-width="1.06" /><path d="M486.200 353.600c-4.500 1.500-8 7-7.600 12.400c.2 2.500 1.200 4.600 2.600 5.800h13.800c1.400-1.200 2.400-3.300 2.600-5.800c.4-5.400-3.100-10.900-7.600-12.400z" fill="#fff" stroke="#151515" stroke-width="1.18" /><rect x="485.9" y="349.3" width="4.4" height="4.6" fill="#fff" stroke="#151515" stroke-width="1.06" /><circle cx="488.100" cy="347.300" r="2.200" fill="#fff" stroke="#222" stroke-width=".9"/><path d="M480.700 371.800l7.400 12.800l7.400-12.800z" fill="#fff" stroke="#151515" stroke-width="1.06" /><path d="M484.200 377.800h7.800l-3.900 6.800z" fill="#333" stroke="#151515" stroke-width="0.59" /><path d="M481.500 368.500q6.600 2.500 13.200 0" fill="none" stroke="#666" stroke-width="0.71" /><line x1="484.3" y1="386.6" x2="492.0" y2="386.6" stroke="#151515" stroke-width="2.01" /><line x1="487.5" y1="384.6" x2="487.5" y2="407.0" stroke="#151515" stroke-width="0.94" /><line x1="489.0" y1="384.6" x2="489.0" y2="406.6" stroke="#151515" stroke-width="0.94" /><path d="M485.500 373.500h5.500M486.500 375.500h3.500" fill="none" stroke="#555" stroke-width="0.59" /></g></g><line x1="548.0" y1="432.9" x2="671.5" y2="432.9" stroke="#151515" stroke-width="1.77" /><clipPath id="wd"><rect x="555.0" y="403.8" width="22.9" height="29.0"/></clipPath><rect x="555.0" y="403.8" width="22.9" height="29.0" fill="#e8e8e8" stroke="#151515" stroke-width="1.3" /><g clip-path="url(#wd)" stroke="#222" stroke-width="0.9" fill="none"><path d="M547.5 432.8L546.7 428.0L549.2 423.1L552.3 418.3L553.2 413.5L552.1 408.6L552.0 403.8"/><path d="M550.0 432.8L550.1 428.0L553.4 423.1L555.0 418.3L554.1 413.5L553.5 408.6L555.3 403.8"/><path d="M552.5 432.8L554.2 428.0L556.5 423.1L556.2 418.3L555.2 413.5L556.3 408.6L559.5 403.8"/><path d="M555.0 432.8L557.9 428.0L558.3 423.1L557.1 418.3L557.4 413.5L560.3 408.6L563.2 403.8"/><path d="M557.5 432.8L560.2 428.0L559.1 423.1L558.8 418.3L561.0 413.5L564.3 408.6L565.5 403.8"/><path d="M560.0 432.8L561.2 428.0L560.4 423.1L561.9 418.3L565.2 413.5L567.2 408.6L566.6 403.8"/><path d="M562.5 432.8L562.2 428.0L562.9 423.1L566.0 418.3L568.6 413.5L568.7 408.6L567.6 403.8"/><path d="M565.0 432.8L564.2 428.0L566.8 423.1L569.9 418.3L570.6 413.5L569.5 408.6L569.5 403.8"/><path d="M567.5 432.8L567.6 428.0L570.9 423.1L572.4 418.3L571.6 413.5L571.0 408.6L572.9 403.8"/><path d="M570.0 432.8L571.7 428.0L574.0 423.1L573.7 418.3L572.7 413.5L573.8 408.6L577.0 403.8"/><path d="M572.5 432.8L575.4 428.0L575.7 423.1L574.6 418.3L574.9 413.5L577.8 408.6L580.7 403.8"/><path d="M575.0 432.8L577.6 428.0L576.6 423.1L576.3 418.3L578.6 413.5L581.8 408.6L583.0 403.8"/><path d="M577.5 432.8L578.7 428.0L577.9 423.1L579.4 418.3L582.7 413.5L584.7 408.6L584.1 403.8"/><path d="M580.0 432.8L579.7 428.0L580.5 423.1L583.5 418.3L586.1 413.5L586.2 408.6L585.0 403.8"/><path d="M582.5 432.8L581.7 428.0L584.3 423.1L587.4 418.3L588.1 413.5L587.0 408.6L587.0 403.8"/><path d="M585.0 432.8L585.1 428.0L588.4 423.1L589.9 418.3L589.1 413.5L588.5 408.6L590.4 403.8"/><path d="M587.5 432.8L589.3 428.0L591.5 423.1L591.2 418.3L590.2 413.5L591.3 408.6L594.5 403.8"/><path d="M590.0 432.8L592.9 428.0L593.2 423.1L592.1 418.3L592.5 413.5L595.3 408.6L598.2 403.8"/><path d="M592.5 432.8L595.1 428.0L594.1 423.1L593.8 418.3L596.1 413.5L599.3 408.6L600.5 403.8"/></g><g transform="translate(566.8 402.6)" stroke="#151515" stroke-width="1.15" fill="none" stroke-linejoin="round"><path d="M-7.8 0H7.8L12.8 -10.6C12.8 -12.8 4.4 -14.7 3.4 -16.9H-3.4C-4.4 -14.7 -12.8 -12.8 -12.8 -10.6Z" fill="#fff"/><path d="M-7.8 0H7.8L12.2 -9.8H-12.2Z" fill="#bdbdbd" stroke="none"/><path d="M-11.8 -10H11.8M-10.3 -6.572H10.3M-8.3 -2.65H8.3" stroke="#222" stroke-width=".8"/><path d="M0 -16.9q-.8 7.605 2.500 12.168" stroke="#111" stroke-width="1.2"/><path d="M-3.4 -16.9H3.4V-19q0-1.500-1.500-1.500H-1.9q-1.500 0-1.500 1.500Z" fill="#fff"/><path d="M-2.6 -20.5L-6 -29.6M2.6 -20.5L6 -29.6" stroke-width=".9"/><path d="M0 -20.5V-28.6M-0.8 -21.5L-3 -28.6M0.8 -21.5L3 -28.6" stroke="#222" stroke-width=".9" stroke-dasharray="2.500 1"/></g><line x1="600.2" y1="331.0" x2="600.2" y2="426.5" stroke="#222" stroke-width="0.94" /><line x1="602.8" y1="331.0" x2="602.8" y2="426.5" stroke="#222" stroke-width="0.94" /><line x1="600.2" y1="331.0" x2="602.8" y2="331.0" stroke="#222" stroke-width="0.94" /><path d="M582.700 426.100h38.600v2.200h-38.600z" fill="#eee" stroke="#151515" stroke-width="0.94" /><path d="M579.500 428.300h45l2 3.900h-47z" fill="#e4e4e4" stroke="#151515" stroke-width="0.94" /><line x1="589.6" y1="432.6" x2="616.2" y2="432.6" stroke="#222" stroke-width="1.89" /><g transform="translate(557.900 366.600) rotate(2.500)"><path d="M4.800-4.600h53.500v10.200h-52.500q-5.800-.6-5.800-5.300t4.800-4.900z" fill="#fff" stroke="#151515" stroke-width="1.18" /><line x1="12.0" y1="-3.0" x2="46.0" y2="-2.6" stroke="#555" stroke-width="0.71" /><path d="M1 1.500c3-2.500 8-1.500 12 0s8 1.800 11.500 3.200l-21.500.8q-3.500-1-2-4z" fill="#1a1a1a" stroke="#151515" stroke-width="0.71" /><rect x="57.8" y="-5.2" width="3.6" height="11.4" fill="#fff" stroke="#151515" stroke-width="1.06" /><path d="M61.400-6.600l8.500 .8v12.600l-8.500 .8z" fill="#111" stroke="#151515" stroke-width="0.71" /><line x1="64.5" y1="-5.5" x2="64.5" y2="6.5" stroke="#888" stroke-width="0.59" /></g><path d="M596.500 358.200l3.500 2.300l2-2.300l3.400 2.300v2.400h-8.900z" fill="#333" stroke="#151515" stroke-width="0.83" /><rect x="596.0" y="362.9" width="8.6" height="4.2" fill="#fff" stroke="#151515" stroke-width="1.06" /><rect x="595.6" y="370.8" width="9.0" height="3.8" fill="#fff" stroke="#151515" stroke-width="1.06" /><line x1="597.5" y1="372.7" x2="602.5" y2="372.7" stroke="#151515" stroke-width="1.06" /><path d="M626 371.500h17.500q3.500 0 3.600 4.500l.8 52.500" fill="none" stroke="#151515" stroke-width="1.06" /><path d="M626 373.300h16.500q2.600 0 2.700 3.500l.8 52" fill="none" stroke="#151515" stroke-width="1.06" /><line x1="626.0" y1="372.4" x2="636.0" y2="372.4" stroke="#333" stroke-width="2.12" /><path d="M632.800 400.500l1.500 1.800v27q0 3 3 3h18.700q3 0 3-3v-28.400" fill="none" stroke="#222" stroke-width="1.18" /><line x1="632.6" y1="400.9" x2="659.5" y2="400.9" stroke="#222" stroke-width="1.53" /><path d="M634.800 417.600h23.800M636.500 420h8M649.500 420h8M637.500 422.500h7M649.500 422.500h7M636.500 425h8M649.500 425h8M637.500 427.500h7M649.500 427.500h7M638 430h16" fill="none" stroke="#333" stroke-width="0.83" /><text x="0" y="0" transform="translate(553.00 345.50) scale(0.970 1)" font-size="9.20" fill="#111" text-anchor="start" stroke="#111" stroke-width="0.25">Na<tspan font-size="5.5" dy="1.500">2</tspan><tspan dy="-1.500">CO</tspan><tspan font-size="5.5" dy="1.500">3</tspan></text><text x="581.8" y="346" font-size="9.2" fill="#111">或</text><text x="0" y="0" transform="translate(553.00 354.80) scale(0.970 1)" font-size="9.20" fill="#111" text-anchor="start" stroke="#111" stroke-width="0.25">NaHCO<tspan font-size="5.5" dy="1.500">3</tspan></text><line x1="564.1" y1="357.0" x2="564.1" y2="367.2" stroke="#111" stroke-width="0.83" /><text font-size="9.2" fill="#111"><tspan x="662.8" y="391.9">澄</tspan><tspan x="662.8" y="401.45">清</tspan><tspan x="662.8" y="411">石</tspan><tspan x="662.8" y="420.55">灰</tspan><tspan x="662.8" y="430.1">水</tspan></text><line x1="661.4" y1="414.0" x2="658.4" y2="417.6" stroke="#333" stroke-width="0.71" /></g></svg>

</div>
</body>
</html>
